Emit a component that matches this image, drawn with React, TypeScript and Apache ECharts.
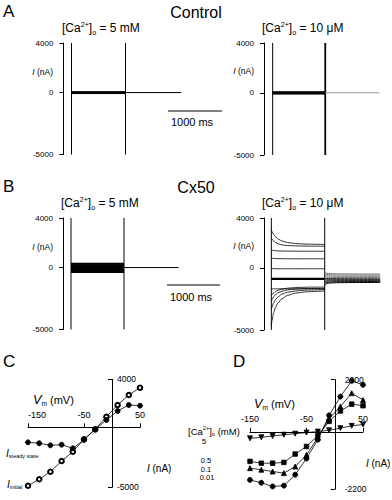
import React, { useEffect, useRef } from 'react';
import * as echarts from 'echarts';

const FONT = '"Liberation Sans", Arial, Helvetica, sans-serif';

// ---------- Trace panels (time in ms, current in nA) ----------
const stepTimes = [0, 1000];
const tailTimes = [1000, 2030];
const pulseEdges = [0, 1000];
const traceTicks = [-5000, 0, 4000];

const controlHighCaSteps = [-80, -50, -20, 10, 40, 70];
const controlHighCaTail = [0, 0];
const controlLowCaSteps = [-100, -70, -40, -10, 20, 50, 80];
const controlLowCaTail = [0, 0];
const cx50HighCaSteps = [-380, -320, -260, -200, -140, -80, -20, 40, 100, 160, 220, 280, 330];
const cx50HighCaTail = [0, 0];

const decayTimes = [0, 15, 40, 80, 130, 200, 300, 450, 650, 1000];
const cx50LowCaSteps = [
  [3050, 2900, 2700, 2480, 2300, 2150, 2030, 1950, 1900, 1870],
  [2400, 2300, 2170, 2030, 1920, 1840, 1790, 1760, 1740, 1730],
  [1450, 1420, 1390, 1370, 1355, 1345, 1340, 1335, 1330, 1330],
  [780, 770, 750, 740, 735, 730, 725, 720, 720, 720],
  [-60, -65, -70, -75, -78, -80, -80, -80, -80, -80],
  [-890, -890, -890, -890, -890, -890, -890, -890, -890, -890],
  [-1700, -1700, -1695, -1690, -1690, -1690, -1690, -1690, -1690, -1690],
  [-2230, -2150, -2030, -1900, -1800, -1710, -1640, -1590, -1560, -1550],
  [-2690, -2550, -2350, -2150, -2000, -1880, -1780, -1710, -1670, -1650],
  [-3360, -3150, -2850, -2550, -2320, -2120, -1970, -1860, -1790, -1750],
  [-4700, -4200, -3650, -3150, -2800, -2480, -2220, -2040, -1930, -1860],
];
const cx50TailTimes = [1000, 1010, 1030, 1070, 1150, 1300, 1600, 2040];
const cx50LowCaTails = [
  [-300, -380, -430, -460, -480, -490, -500, -500],
  [-420, -480, -530, -560, -570, -580, -585, -590],
  [-560, -600, -640, -660, -670, -680, -685, -690],
  [-700, -730, -750, -765, -775, -780, -785, -790],
  [-850, -860, -870, -875, -880, -885, -890, -890],
  [-990, -980, -975, -970, -970, -970, -970, -970],
  [-1130, -1100, -1080, -1065, -1055, -1050, -1045, -1045],
  [-1280, -1230, -1190, -1160, -1140, -1125, -1115, -1110],
  [-1450, -1360, -1290, -1240, -1210, -1195, -1185, -1180],
];

// ---------- I-V panels (Vm in mV, I in nA) ----------
const vmSteps = [-150, -130, -110, -90, -70, -50, -30, -10, 10, 30, 50];
const vmTicks = [-150, -50, 50];
const iInitial = [-4870, -4330, -3700, -2810, -2030, -1000, -170, 880, 1860, 2690, 3300];
const iSteady = [-1250, -1330, -1500, -1450, -1750, -1050, -170, 610, 1360, 1860, 1800];
const cTicks = [-5000, 4000];

const iCa5 = [-250, -210, -160, -110, -70, -30, 10, 60, 140, 230, 280];
const iCa05 = [-1130, -1200, -1200, -1170, -850, -560, -150, 400, 800, 1060, 1000];
const iCa01 = [-1390, -1450, -1520, -1580, -1330, -880, -220, 500, 970, 1480, 1220];
const iCa001 = [-1840, -1950, -2090, -2060, -1640, -1020, -300, 630, 1350, 1950, 1800];
const dTicks = [-2200, 2000];
const caLegend = ['5', '0.5', '0.1', '0.01'];

function richFor(fs: number) {
  const base = { fontFamily: FONT, fill: '#000' };
  return {
    sup: { ...base, fontSize: fs * 0.6, verticalAlign: 'top' },
    sub: { ...base, fontSize: fs * 0.6, verticalAlign: 'bottom' },
    subs: { ...base, fontSize: 5.5, verticalAlign: 'bottom' },
    i: { ...base, fontSize: fs, fontStyle: 'italic' },
    ib: { ...base, fontSize: fs * 1.15, fontStyle: 'italic' },
  };
}

function buildOption() {
  const tracePanels = [
    { left: 63.4, top: 43, width: 121.5, height: 111.5, min: -150, max: 2100 },
    { left: 264, top: 43, width: 119.1, height: 112, min: -165, max: 2100 },
    { left: 63, top: 218, width: 119.3, height: 111.5, min: -151, max: 2100 },
    { left: 264, top: 218, width: 120.3, height: 112, min: -137, max: 2116 },
  ];
  const cGrid = { left: 28, top: 379.3, width: 112, height: 108 };
  const dGrid = { left: 250, top: 379.6, width: 113, height: 109.7 };

  const grid: any[] = [
    ...tracePanels.map((p) => ({ left: p.left, top: p.top, width: p.width, height: p.height })),
    cGrid,
    dGrid,
  ];

  const axisLine = { show: true, onZero: false, lineStyle: { color: '#000', width: 1 } };
  const fmt = (v: number) => String(v);

  const xAxis: any[] = tracePanels.map((p, i) => ({
    type: 'value', gridIndex: i, min: p.min, max: p.max, show: false,
  }));
  const yAxis: any[] = tracePanels.map((p, i) => ({
    type: 'value', gridIndex: i, min: -5000, max: 4000, position: 'left',
    axisLine,
    axisTick: { show: true, length: 4, customValues: traceTicks, lineStyle: { color: '#000', width: 1 } },
    axisLabel: { customValues: traceTicks, formatter: fmt, fontSize: 8, margin: 10, color: '#000', fontFamily: FONT },
    splitLine: { show: false },
  }));

  // C axes
  const cZero = cGrid.height * 4000 / 9000;
  xAxis.push({
    type: 'value', gridIndex: 4, min: -150, max: 50, position: 'top', offset: -cZero,
    axisLine,
    axisTick: { show: true, length: 4, customValues: vmTicks, lineStyle: { color: '#000' } },
    axisLabel: { customValues: vmTicks, formatter: fmt, fontSize: 9, margin: 8, color: '#000', fontFamily: FONT, alignMinLabel: 'left' },
    splitLine: { show: false },
  });
  yAxis.push({
    type: 'value', gridIndex: 4, min: -5000, max: 4000, position: 'right', offset: -(cGrid.width * 50 / 200),
    axisLine,
    axisTick: { show: true, inside: true, length: 4, customValues: cTicks, lineStyle: { color: '#000' } },
    axisLabel: { customValues: cTicks, formatter: fmt, fontSize: 8.5, margin: 5, color: '#000', fontFamily: FONT },
    splitLine: { show: false },
  });
  // D axes
  const dZero = dGrid.height * 2000 / 4200;
  xAxis.push({
    type: 'value', gridIndex: 5, min: -150, max: 50, position: 'top', offset: -dZero,
    axisLine,
    axisTick: { show: true, length: 4, customValues: vmTicks, lineStyle: { color: '#000' } },
    axisLabel: { customValues: vmTicks, formatter: fmt, fontSize: 9, margin: 8, color: '#000', fontFamily: FONT },
    splitLine: { show: false },
  });
  yAxis.push({
    type: 'value', gridIndex: 5, min: -2200, max: 2000, position: 'right', offset: -(dGrid.width * 50 / 200),
    axisLine,
    axisTick: { show: true, inside: true, length: 4, customValues: dTicks, lineStyle: { color: '#000' } },
    axisLabel: { customValues: dTicks, formatter: fmt, fontSize: 8.5, margin: 10, color: '#000', fontFamily: FONT },
    splitLine: { show: false },
  });

  const series: any[] = [];
  const line = (idx: number, data: number[][], width = 1, color = '#000', smooth: any = false, z = 2) => {
    series.push({
      type: 'line', xAxisIndex: idx, yAxisIndex: idx, data, symbol: 'none', showSymbol: false,
      smooth, smoothMonotone: 'x', silent: true, z,
      lineStyle: { width, color },
    });
  };

  // pulse edges (capacitive transients)
  [0, 1, 2, 3].forEach((i) => {
    pulseEdges.forEach((t, k) => {
      line(i, [[t, 4000], [t, -5000]], i === 1 && k === 1 ? 1.8 : 1);
    });
  });
  controlHighCaSteps.forEach((v) => line(0, stepTimes.map((t) => [t, v]), 1));
  line(0, tailTimes.map((t, j) => [t, controlHighCaTail[j]]), 1);
  controlLowCaSteps.forEach((v) => line(1, stepTimes.map((t) => [t, v]), 1));
  line(1, tailTimes.map((t, j) => [t, controlLowCaTail[j]]), 1, '#999');
  cx50HighCaSteps.forEach((v) => line(2, stepTimes.map((t) => [t, v]), 1.4));
  line(2, tailTimes.map((t, j) => [t, cx50HighCaTail[j]]), 1);
  cx50LowCaSteps.forEach((vals, k) =>
    line(3, decayTimes.map((t, j) => [t, vals[j]]), k === 5 ? 2.2 : 0.8, '#000', 0.3, k === 5 ? 3 : 2)
  );
  cx50LowCaTails.forEach((vals, k) =>
    line(3, cx50TailTimes.map((t, j) => [t, vals[j]]), 1, k < 4 ? '#777' : '#000', 0.3)
  );

  const ivSeries = (idx: number, vals: number[], symbol: string, size: number, extra: any = {}, z = 3) => {
    series.push({
      type: 'line', xAxisIndex: idx, yAxisIndex: idx, z,
      data: vmSteps.map((v, j) => [v, vals[j]]),
      symbol, symbolSize: size, showSymbol: true, silent: true,
      lineStyle: { width: 0.8, color: '#000' },
      itemStyle: { color: '#000', borderColor: '#000', borderWidth: 0.8 },
      ...extra,
    });
  };
  ivSeries(4, iInitial, 'emptyCircle', 4.5, {}, 3);
  ivSeries(4, iSteady, 'circle', 5, {}, 4);
  ivSeries(5, iCa5, 'triangle', 5, { symbolRotate: 180 });
  ivSeries(5, iCa05, 'rect', 4.5);
  ivSeries(5, iCa01, 'triangle', 5);
  ivSeries(5, iCa001, 'circle', 5);

  const txt = (x: number, y: number, text: string, fontSize: number, align = 'left', lineHeight?: number) => ({
    type: 'text', x, y, silent: true,
    style: {
      text, fontSize, fontFamily: FONT, fill: '#000', align, verticalAlign: 'middle',
      lineHeight: lineHeight || Math.round(fontSize * 1.2), rich: richFor(fontSize),
    },
  });

  const graphic: any[] = [
    txt(3, 11, 'A', 17),
    txt(196, 12, 'Control', 16, 'center'),
    txt(3, 186, 'B', 17),
    txt(196, 187, 'Cx50', 16, 'center'),
    txt(3, 361, 'C', 17),
    txt(233, 361, 'D', 17),
    txt(62, 28, '[Ca{sup|2+}]{sub|o} = 5 mM', 12, 'left', 15),
    txt(262, 28, '[Ca{sup|2+}]{sub|o} = 10 μM', 12, 'left', 15),
    txt(61, 203, '[Ca{sup|2+}]{sub|o} = 5 mM', 12, 'left', 15),
    txt(262, 203, '[Ca{sup|2+}]{sub|o} = 10 μM', 12, 'left', 15),
    txt(53, 72, '{i|I} (nA)', 8.5, 'right'),
    txt(254, 71, '{i|I} (nA)', 8.5, 'right'),
    txt(53, 247, '{i|I} (nA)', 8.5, 'right'),
    txt(254, 246, '{i|I} (nA)', 8.5, 'right'),
    { type: 'line', silent: true, shape: { x1: 168, y1: 111, x2: 222, y2: 111 }, style: { stroke: '#000', lineWidth: 1 } },
    txt(192, 122, '1000 ms', 11, 'center'),
    { type: 'line', silent: true, shape: { x1: 167, y1: 285, x2: 220, y2: 285 }, style: { stroke: '#000', lineWidth: 1 } },
    txt(191, 297, '1000 ms', 11, 'center'),
    txt(33, 400, '{ib|V}{sub|m} (mV)', 11, 'left', 14),
    txt(147, 468, '{i|I} (nA)', 10, 'left'),
    txt(6, 453, '{ib|I}{subs|steady state}', 9, 'left', 12),
    txt(7, 484, '{ib|I}{subs|initial}', 9, 'left', 12),
    txt(254, 404, '{ib|V}{sub|m} (mV)', 11, 'left', 14),
    txt(366, 463, '{i|I} (nA)', 10, 'left'),
    txt(188, 431, '[Ca{sup|2+}]{sub|o} (mM)', 9.5, 'left', 12),
    txt(204, 441, caLegend[0], 8, 'center', 8),
    txt(206, 460.5, caLegend[1], 7.5, 'center', 7.5),
    txt(206, 469, caLegend[2], 7.5, 'center', 7.5),
    txt(207, 477.5, caLegend[3], 7.5, 'center', 7.5),
  ];

  return {
    animation: false,
    backgroundColor: '#fff',
    textStyle: { fontFamily: FONT },
    grid,
    xAxis,
    yAxis,
    series,
    graphic,
  };
}

export default function App() {
  const ref = useRef<HTMLDivElement>(null);
  useEffect(() => {
    document.body.style.margin = '0';
    const chart = echarts.init(ref.current as HTMLDivElement, null, { renderer: 'svg' });
    chart.setOption(buildOption() as any);
    return () => chart.dispose();
  }, []);
  return (
    <div
      ref={ref}
      style={{ position: 'absolute', left: 0, top: 0, width: 392, height: 500, background: '#fff' }}
    />
  );
}
